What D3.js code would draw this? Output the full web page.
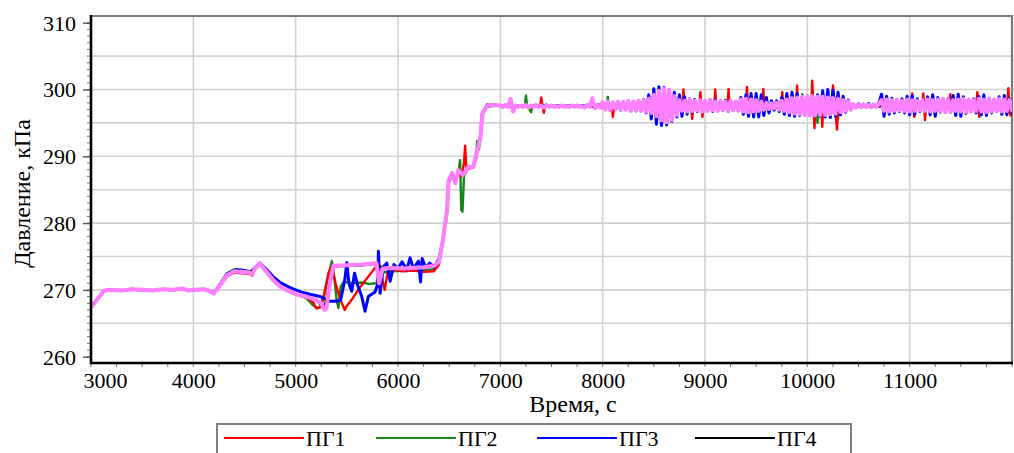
<!DOCTYPE html>
<html><head><meta charset="utf-8">
<script src="https://cdn.jsdelivr.net/npm/d3@7"></script>
<style>
body{margin:0;background:#fff;}
svg text{font-family:"Liberation Serif","Times New Roman",serif;fill:#000;}
</style></head><body>
<svg id="chart" width="1014" height="453"></svg>
<script>
// ---------------- data ----------------
const xTicks = [3000, 4000, 5000, 6000, 7000, 8000, 9000, 10000, 11000];
const yTicks = [260, 270, 280, 290, 300, 310];
const seriesNames = ["ПГ1", "ПГ2", "ПГ3", "ПГ4"];

// common start of all pressures, [time s, kPa]
const startPath = [[3000,267.4],[3130,269.9],[3200,270.0],[3300,269.9],[3400,270.1],[3500,270.0],[3600,269.9],
  [3700,270.1],[3800,270.0],[3900,270.2],[3950,269.9],[4000,270.0],[4100,270.1],[4150,269.9]];

// transient part 4150..6950 s
const pg1Mid = [[4200,269.4],[4260,270.6],[4330,272.0],[4400,272.6],[4480,272.5],[4550,272.4],[4575,272.1],[4600,273.1],
  [4650,273.9],[4700,273.0],[4780,271.4],[4850,270.4],[4910,269.9],[5000,269.3],[5100,268.9],[5170,268.2],[5200,267.3],
  [5240,267.4],[5280,269.5],[5320,272.5],[5350,273.5],[5390,271.0],[5430,268.8],[5480,267.0],[5500,267.6],[5560,268.8],
  [5620,270.2],[5700,271.8],[5760,273.0],[5790,273.6],[5810,270.5],[5840,272.0],[5870,270.0],[5900,272.8],[5950,273.0],
  [6050,272.8],[6150,272.9],[6250,272.7],[6350,272.8],[6400,273.8],[6440,277.3],[6480,281.8],[6495,286.0],[6530,287.3],
  [6560,285.9],[6590,287.6],[6620,287.0],[6645,289.0],[6656,291.6],[6668,288.0],[6700,288.2],[6735,288.3],[6775,290.7],
  [6805,292.6],[6825,296.2],[6870,297.7],[6940,297.6]];
const pg2Mid = [[4200,269.6],[4260,270.9],[4330,272.5],[4400,273.1],[4480,273.0],[4550,272.8],[4575,272.5],[4600,273.3],
  [4650,274.0],[4700,273.1],[4780,271.6],[4850,270.5],[4910,270.0],[5000,269.4],[5100,268.8],[5150,268.0],[5210,267.2],
  [5250,267.5],[5290,270.0],[5353,274.3],[5370,273.0],[5400,268.5],[5418,267.3],[5440,270.5],[5470,271.2],[5560,271.0],
  [5650,271.1],[5720,270.9],[5790,271.0],[5815,273.0],[5850,272.6],[5950,272.8],[6100,272.9],[6250,273.0],[6350,273.1],
  [6400,274.0],[6440,277.4],[6480,281.9],[6495,286.3],[6530,287.4],[6560,286.1],[6590,287.7],[6607,289.4],[6618,282.0],
  [6630,281.7],[6645,287.0],[6685,288.3],[6735,288.4],[6765,289.6],[6773,292.3],[6790,291.0],[6805,292.7],[6825,296.3],
  [6870,297.8],[6940,297.6]];
const pg3Mid = [[4200,269.6],[4260,270.8],[4330,272.4],[4420,273.0],[4500,272.9],[4560,272.6],[4600,273.3],[4650,274.0],
  [4700,273.3],[4780,272.0],[4850,271.1],[4950,270.3],[5050,269.7],[5150,269.3],[5240,269.0],[5290,268.6],[5340,268.3],
  [5400,268.3],[5440,268.5],[5480,271.5],[5500,274.1],[5520,271.0],[5548,269.8],[5575,272.5],[5610,270.5],[5646,269.0],
  [5678,266.8],[5710,269.0],[5776,269.7],[5800,270.8],[5809,275.8],[5825,269.5],[5858,273.5],[5890,274.0],[5923,271.3],
  [5960,273.8],[6000,273.2],[6040,274.2],[6086,273.0],[6118,274.8],[6150,273.2],[6200,274.3],[6220,271.2],[6236,274.7],
  [6270,273.3],[6310,274.0],[6350,273.4],[6400,274.6],[6440,277.5],[6480,282.0],[6495,286.2],[6530,287.3],[6560,286.2],
  [6590,287.8],[6635,287.3],[6685,288.3],[6735,288.5],[6775,290.8],[6805,292.9],[6825,296.5],[6870,297.5],[6940,297.6]];
const pg4Mid = [[4200,269.5],[4260,270.7],[4330,272.2],[4400,272.8],[4480,272.7],[4550,272.6],[4600,273.2],[4650,273.9],
  [4700,273.0],[4780,271.5],[4850,270.5],[4910,270.0],[5000,269.4],[5100,269.0],[5200,268.5],[5280,267.2],[5340,271.5],
  [5370,273.5],[5500,273.6],[5650,273.7],[5790,273.9],[5850,273.2],[6050,273.2],[6250,273.4],[6350,273.6],[6400,274.2],
  [6440,277.5],[6480,282.0],[6495,286.4],[6530,287.5],[6560,286.0],[6590,287.9],[6635,287.2],[6685,288.4],[6735,288.4],
  [6775,290.9],[6805,292.8],[6825,296.4],[6870,297.6],[6940,297.7]];
// averaged pressure (violet), transient part
const avgMid = [[4200,269.5],[4260,270.7],[4330,272.2],[4400,272.8],[4480,272.7],[4550,272.6],[4575,272.3],[4600,273.2],
  [4650,274.0],[4700,273.0],[4780,271.5],[4850,270.5],[4910,270.0],[5000,269.4],[5100,269.0],[5200,268.5],[5250,268.0],
  [5280,267.0],[5300,267.2],[5340,271.5],[5370,273.6],[5500,273.7],[5650,273.8],[5790,274.0],[5815,271.0],[5850,273.2],
  [5950,273.3],[6050,273.2],[6150,273.3],[6250,273.4],[6350,273.6],[6400,274.2],[6440,277.5],[6480,282.0],[6495,286.4],
  [6530,287.5],[6560,286.0],[6590,287.9],[6635,287.2],[6685,288.4],[6735,288.4],[6775,290.9],[6805,292.8],[6825,296.4],
  [6870,297.6],[6940,297.7]];

// steady state from 7000 s
// ПГ1, ПГ2: [time s, kPa] with the isolated spikes
const pg1Steady = [[7000,297.6],[7100,297.4],[7200,297.6],[7300,297.4],[7390,297.6],[7400,298.8],[7412,297.5],[7425,296.5],
  [7437,297.5],[7500,297.6],[7600,297.4],[7700,297.6],[7800,297.4],[7900,297.6],[8000,297.3],[8050,297.8],[8090,297.2],
  [8100,295.9],[8110,297.3],[8200,297.8],[8300,297.2],[8400,297.8],[8500,297.2],[8600,297.9],[8700,297.1],[8780,297.8],
  [8790,300.0],[8800,297.3],[8865,297.8],[8875,295.6],[8885,297.4],[8945,297.8],[8955,299.6],[8965,297.5],[8975,295.9],
  [8985,297.4],[9050,297.8],[9090,297.2],[9100,300.0],[9110,297.3],[9170,297.8],[9220,297.2],[9230,300.1],[9240,297.3],
  [9320,297.9],[9400,297.2],[9410,300.4],[9420,297.3],[9500,297.8],[9560,297.2],[9570,300.1],[9580,297.3],[9660,297.8],
  [9745,297.2],[9755,299.6],[9765,297.3],[9830,297.9],[9890,297.0],[9900,300.6],[9910,297.0],[9980,298.0],[10038,297.0],
  [10048,301.3],[10059,297.6],[10070,294.2],[10080,297.2],[10136,297.8],[10146,294.4],[10156,297.6],[10240,297.2],
  [10250,300.6],[10270,297.5],[10290,294.0],[10300,297.4],[10380,297.8],[10450,297.4],[10550,297.7],[10650,297.4],
  [10750,297.9],[10850,297.2],[10950,297.9],[11015,297.2],[11025,299.4],[11035,297.6],[11045,295.9],[11055,297.4],
  [11123,297.8],[11133,299.4],[11141,297.6],[11150,295.4],[11160,297.4],[11250,297.9],[11387,297.2],[11397,299.3],
  [11407,297.4],[11500,297.8],[11600,297.2],[11651,297.8],[11661,299.6],[11670,297.6],[11680,295.9],[11690,297.4],
  [11800,297.9],[11900,297.2],[11954,297.6],[11964,300.2],[11974,297.6],[11985,296.1],[11995,297.4],[12000,297.6]];
const pg2Steady = [[7000,297.6],[7100,297.4],[7200,297.6],[7240,297.5],[7250,299.1],[7262,297.5],[7300,296.6],[7312,297.5],
  [7400,297.6],[7500,297.4],[7600,297.6],[7700,297.4],[7800,297.6],[7900,297.4],[8000,297.6],[8040,297.4],[8050,298.9],
  [8060,297.5],[8200,297.3],[8300,297.8],[8400,297.2],[8500,297.9],[8560,296.0],[8600,299.0],[8640,295.8],[8700,297.9],
  [8800,297.2],[8900,297.8],[9000,297.3],[9100,297.8],[9200,297.2],[9300,297.8],[9400,297.2],[9500,297.8],[9600,297.3],
  [9700,297.8],[9800,297.2],[9850,298.0],[9940,297.4],[9950,299.3],[9960,297.4],[10000,297.8],[10090,297.4],[10100,295.0],
  [10110,297.3],[10200,297.8],[10290,297.4],[10300,295.6],[10310,297.4],[10400,297.8],[10500,297.4],[10600,297.7],
  [10700,297.4],[10800,297.9],[10900,297.2],[11000,297.9],[11100,297.2],[11200,297.9],[11300,297.2],[11400,297.9],
  [11500,297.2],[11600,297.9],[11700,297.2],[11800,297.9],[11900,297.2],[12000,297.6]];

// ПГ3 and averaged pressure sampled every 25 s, ПГ4 every 100 s, from 7000 s
const steadyStart = 7000;
const pg3Steady = [
  297.6,297.4,297.6,297.5,297.6,297.4,297.6,297.5,297.6,297.4,
  297.6,297.4,297.6,297.5,297.6,297.4,297.6,297.4,297.7,297.4,
  297.6,297.4,297.6,297.5,297.6,297.4,297.6,297.5,297.6,297.4,
  297.6,297.4,297.6,297.5,297.6,297.4,297.6,297.4,297.7,297.4,
  297.9,297.1,298.0,297.0,298.1,297.0,298.0,296.9,298.2,297.0,298.1,296.9,298.2,296.8,298.3,296.8,298.5,296.5,
  299.2,295.6,300.1,294.8,300.4,294.6,300.3,294.7,300.0,295.2,299.6,295.9,
  299.2,296.0,298.9,296.3,298.6,296.6,298.5,296.7,298.4,296.8,298.3,296.8,
  298.5,296.7,298.4,296.8,298.3,296.9,298.4,296.7,298.3,296.9,298.2,296.8,
  298.8,296.3,299.2,296.0,299.4,295.9,299.4,295.9,299.2,296.1,298.8,296.5,298.3,296.9,
  298.3,296.7,298.8,296.3,299.4,296.1,299.6,296.0,299.4,296.1,
  299.0,296.2,299.0,296.1,299.1,296.0,299.2,296.0,299.8,295.9,
  300.0,295.8,299.9,296.0,299.6,296.2,299.0,296.6,298.4,297.0,
  297.8,297.3,297.9,297.3,297.8,297.4,297.9,297.3,297.8,297.4,298.0,
  299.3,296.0,299.0,296.3,298.7,296.5,298.5,296.7,298.6,296.5,
  299.0,296.2,299.1,296.3,298.6,296.7,298.4,296.8,298.9,296.2,
  299.2,296.0,298.8,296.6,298.5,296.7,298.6,296.6,299.1,296.1,
  299.3,296.0,298.9,296.4,298.5,296.7,298.6,296.5,299.0,296.2,
  299.2,296.1,298.7,296.5,298.5,296.7,298.9,296.3,299.1,296.2,
  298.6,296.6];
const pg4Steady = [297.6,297.5,297.5,297.5,297.6,297.5,297.5,297.5,297.5,297.5,
  297.8,297.3,297.8,297.3,297.8,297.4,298.0,297.0,297.8,297.3,
  297.8,297.3,297.8,297.3,297.8,297.3,297.7,297.3,297.8,297.2,
  297.9,297.2,297.8,297.3,297.8,297.5,297.6,297.5,297.8,297.3,
  297.8,297.3,297.8,297.3,297.8,297.3,297.8,297.3,297.8,297.3,
  297.6];
const avgSteady = [
  // 7000..7975
  297.6,297.4,297.7,297.4,298.6,296.7,297.6,297.4,297.6,297.4,
  297.7,297.3,297.6,297.4,297.7,297.4,297.6,297.3,297.6,297.5,
  297.6,297.4,297.5,297.4,297.6,297.4,297.5,297.4,297.6,297.5,
  297.6,297.4,297.5,297.3,297.7,297.4,298.7,297.2,297.6,297.3,
  // 8000..8425
  298.1,297.0,298.2,296.9,298.0,297.1,298.2,296.9,298.1,297.0,298.3,296.8,298.2,296.9,298.3,296.8,298.4,296.7,
  // 8450..8725
  298.6,296.5,299.2,296.0,299.8,295.4,300.1,295.1,299.9,295.4,299.0,296.2,
  // 8750..9325
  298.4,296.8,298.3,296.7,298.5,296.8,298.3,296.9,298.4,296.7,298.3,296.8,
  298.4,296.9,298.2,296.8,298.3,296.9,298.2,296.8,298.3,296.9,298.2,296.9,
  // 9350..9675
  298.5,296.7,298.6,296.6,298.5,296.7,298.4,296.8,298.2,297.0,298.0,297.1,297.9,297.2,
  // 9700..10425
  298.0,297.0,298.3,296.8,298.5,296.6,298.7,296.4,298.8,296.3,
  298.9,296.2,299.0,296.1,299.0,296.1,298.9,296.2,298.9,296.2,
  298.8,296.3,298.7,296.4,298.6,296.6,298.4,296.8,298.2,297.0,
  // 10450..10700
  297.8,297.3,297.8,297.4,297.7,297.4,297.7,297.4,297.7,297.4,297.8,
  // 10725..12000
  298.4,296.8,298.5,296.7,298.4,296.8,298.5,296.9,298.3,296.8,
  298.5,296.7,298.4,296.8,298.3,296.9,298.4,296.8,298.5,296.7,
  298.4,296.8,298.5,296.7,298.6,296.6,298.5,296.7,298.4,296.8,
  298.5,296.7,298.6,296.6,298.5,296.7,298.4,296.8,298.6,296.7,
  298.5,296.6,298.6,296.7,298.5,296.8,298.6,296.7,298.5,296.8,
  298.4,296.9];

// ---------------- chart ----------------
const FONT = "Liberation Serif";
const svg = d3.select("#chart");
const plotL = 91, plotR = 1012, plotT = 16, plotB = 363;
const x = d3.scaleLinear().domain([3000, 12000]).range([plotL, plotR]);
const y = d3.scaleLinear().domain([260, 310]).range([356.7, 22.7]);

const sampled = (values, step) => values.map((v, i) => [steadyStart + i * step, v]);
const joinSeries = (mid, steady) => startPath.concat(mid, steady);

const series = [
  {color: "#118811", w: 2.4, pts: joinSeries(pg2Mid, pg2Steady)},
  {color: "#ff0000", w: 2.4, pts: joinSeries(pg1Mid, pg1Steady)},
  {color: "#0000ff", w: 3.0, pts: joinSeries(pg3Mid, sampled(pg3Steady, 25))},
  {color: "#000000", w: 2.4, pts: joinSeries(pg4Mid, sampled(pg4Steady, 100))},
  {color: "#ff80ff", w: 4.1, pts: joinSeries(avgMid, sampled(avgSteady, 25))}
];

// grid
const grid = svg.append("g");
grid.selectAll("line.v").data(d3.range(4000, 12000, 1000)).join("line")
  .attr("x1", d => x(d)).attr("x2", d => x(d)).attr("y1", plotT).attr("y2", plotB)
  .attr("stroke", "#d2d2d2").attr("stroke-width", 1.6);
grid.selectAll("line.h").data(d3.range(265, 310, 5)).join("line")
  .attr("y1", d => y(d)).attr("y2", d => y(d)).attr("x1", plotL).attr("x2", plotR)
  .attr("stroke", "#d2d2d2").attr("stroke-width", 1.6);

// top and right frame
svg.append("path").attr("d", `M${plotL},${plotT}H${plotR}V${plotB}`)
  .attr("fill", "none").attr("stroke", "#7a7a7a").attr("stroke-width", 2.2);

// series
svg.append("clipPath").attr("id", "plotClip").append("rect")
  .attr("x", plotL).attr("y", plotT).attr("width", plotR - plotL).attr("height", plotB - plotT);
const line = d3.line().x(d => x(d[0])).y(d => y(d[1]));
svg.append("g").attr("clip-path", "url(#plotClip)")
  .selectAll("path").data(series).join("path")
  .attr("d", d => line(d.pts)).attr("fill", "none")
  .attr("stroke", d => d.color).attr("stroke-width", d => d.w)
  .attr("stroke-linejoin", "round").attr("stroke-linecap", "round");

// minor ticks
svg.append("g").selectAll("line").data(d3.range(260, 311, 1)).join("line")
  .attr("x1", plotL - 4).attr("x2", plotL).attr("y1", d => y(d)).attr("y2", d => y(d))
  .attr("stroke", "#777").attr("stroke-width", 1);
svg.append("g").selectAll("line").data(d3.range(3000, 12001, 250)).join("line")
  .attr("y1", plotB).attr("y2", plotB + 4).attr("x1", d => x(d)).attr("x2", d => x(d))
  .attr("stroke", "#777").attr("stroke-width", 1);

// axes
const yAxis = svg.append("g").attr("transform", `translate(${plotL},0)`)
  .call(d3.axisLeft(y).tickValues(yTicks).tickSize(8).tickPadding(7));
yAxis.attr("font-family", FONT);
yAxis.select(".domain").remove();
yAxis.selectAll(".tick line").attr("stroke", "#555").attr("stroke-width", 1.4);
yAxis.selectAll(".tick text").attr("font-size", 22).attr("dy", "0.34em");

const xAxis = svg.append("g").attr("transform", `translate(0,${plotB})`)
  .call(d3.axisBottom(x).tickValues(xTicks).tickFormat(d3.format("d")).tickSize(0).tickPadding(8));
xAxis.attr("font-family", FONT);
xAxis.select(".domain").remove();
xAxis.selectAll(".tick text").attr("font-size", 22).attr("dy", "0.75em");
xAxis.selectAll(".tick text").filter(d => d === 3000).attr("dx", 14);

svg.append("line").attr("x1", plotL).attr("x2", plotL).attr("y1", plotT - 1).attr("y2", plotB + 1)
  .attr("stroke", "#000").attr("stroke-width", 2.6);
svg.append("line").attr("x1", plotL - 1).attr("x2", plotR + 1).attr("y1", plotB).attr("y2", plotB)
  .attr("stroke", "#000").attr("stroke-width", 2.6);

// titles
svg.append("text").attr("transform", `translate(30,${(plotT + plotB) / 2 + 4}) rotate(-90)`)
  .attr("text-anchor", "middle").attr("font-family", FONT).attr("font-size", 24).text("Давление, кПа");
svg.append("text").attr("x", 573).attr("y", 412).attr("text-anchor", "middle")
  .attr("font-family", FONT).attr("font-size", 24).text("Время, с");

// legend
const legend = svg.append("g").attr("font-family", FONT);
legend.append("rect").attr("x", 217).attr("y", 424).attr("width", 634).attr("height", 40)
  .attr("fill", "#fff").attr("stroke", "#808080").attr("stroke-width", 2);
const legendItems = [
  {name: seriesNames[0], color: "#ff0000", x0: 224},
  {name: seriesNames[1], color: "#118811", x0: 376},
  {name: seriesNames[2], color: "#0000ff", x0: 537},
  {name: seriesNames[3], color: "#000000", x0: 695}
];
const li = legend.selectAll("g").data(legendItems).join("g");
li.append("line").attr("x1", d => d.x0).attr("x2", d => d.x0 + 80).attr("y1", 438).attr("y2", 438)
  .attr("stroke", d => d.color).attr("stroke-width", 2.2);
li.append("text").attr("x", d => d.x0 + 82).attr("y", 446).attr("font-size", 22).text(d => d.name);
</script>
</body></html>
